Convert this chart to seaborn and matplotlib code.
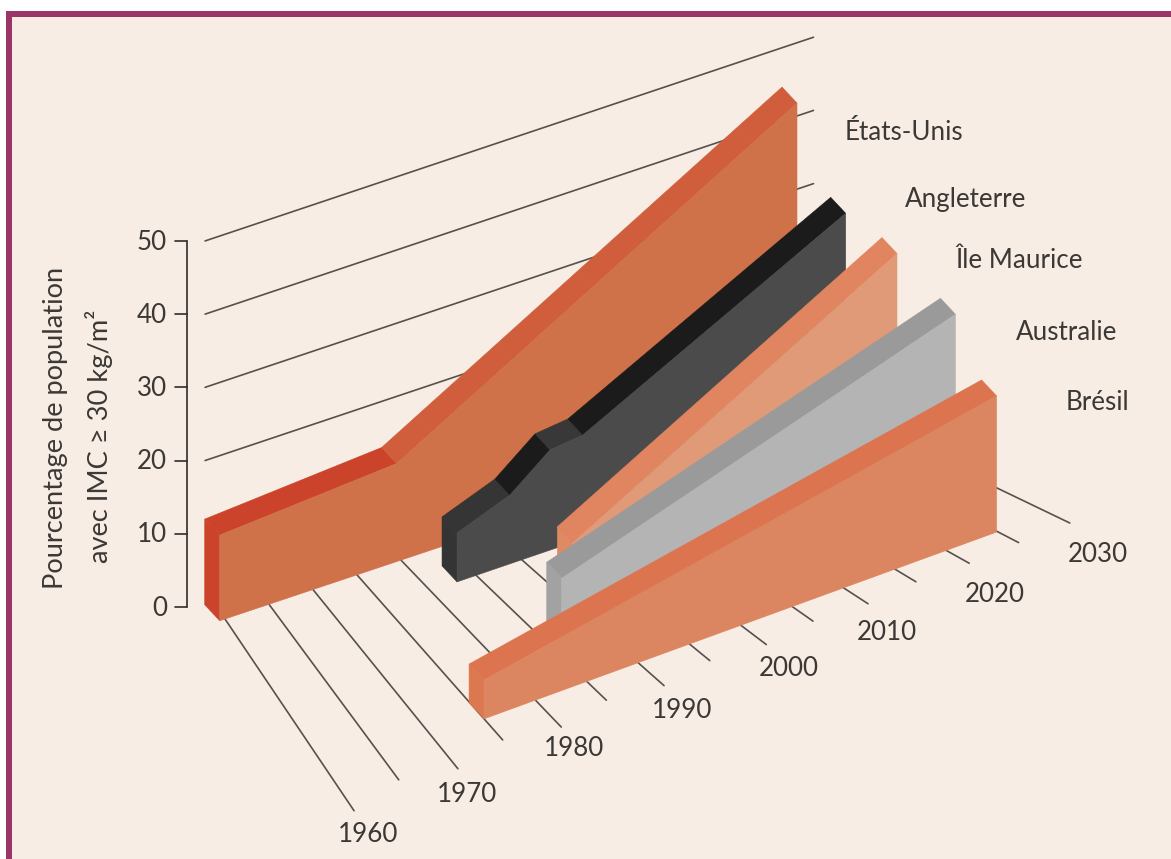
import numpy as np
import pandas as pd
import matplotlib
matplotlib.use("Agg")
import matplotlib.pyplot as plt
from matplotlib.patches import Polygon, Rectangle
import seaborn as sns

# Prevalence of obesity by country: years and percentages at each change of slope
usa_years = [1959.4, 1979.5, 2025.0]
usa_values = [11.7, 13.4, 44.35]
england_years = [1982.9, 1988.7, 1993.1, 1996.7, 2025.5]
england_values = [6.7, 9.4, 13.7, 14.2, 32.2]
mauritius_years = [1991.4, 2025.6]
mauritius_values = [6.2, 30.2]
australia_years = [1985.9, 2025.6]
australia_values = [9.2, 26.0]
brazil_years = [1975.0, 2024.9]
brazil_values = [5.3, 18.6]

country_names = ["États-Unis", "Angleterre", "Île Maurice", "Australie", "Brésil"]
decade_labels = [1960, 1970, 1980, 1990, 2000, 2010, 2020, 2030]
value_ticks = [0, 10, 20, 30, 40, 50]
wall_grid_values = [20, 30, 40, 50]
grid_years = list(range(1960, 2035, 5))

# Oblique view: the floor is a bilinear patch between these four corners (pixels)
FLOOR = {(0, 0): (225, 619), (1, 0): (841, 413), (0, 1): (330, 775), (1, 1): (1049, 513)}
PX_PER_UNIT = 7.32
BACK_SHIFT = np.array([-15.0, -16.0])


def project(year, depth, value=0.0, back=False):
    u = (np.asarray(year, float) - 1960) / 70
    v = depth
    corner = lambda k: ((1 - u) * (1 - v) * FLOOR[(0, 0)][k] + u * (1 - v) * FLOOR[(1, 0)][k]
                        + (1 - u) * v * FLOOR[(0, 1)][k] + u * v * FLOOR[(1, 1)][k])
    x = corner(0)
    y = corner(1) - np.asarray(value, float) * PX_PER_UNIT
    if back:
        x = x + BACK_SHIFT[0]
        y = y + BACK_SHIFT[1]
    return np.column_stack([np.atleast_1d(x), np.atleast_1d(y)])


BG = "#f8ede4"
INK = "#3b3836"
LINE = "#55514e"
TEXT_SIZE = 18.7

sns.set_theme(style="white")
plt.rcParams["font.family"] = ["Lato", "DejaVu Sans"]

fig = plt.figure(figsize=(11.71, 8.59), dpi=100, facecolor="white")
ax = fig.add_axes([0, 0, 1, 1])
ax.set_xlim(0, 1171)
ax.set_ylim(859, 0)
ax.axis("off")

# Panel and its top and left rule
ax.add_patch(Rectangle((12, 17), 1159, 842, fc=BG, ec="none", zorder=0))
ax.add_patch(Rectangle((6, 11), 1165, 6, fc="#9c3567", ec="none", zorder=1))
ax.add_patch(Rectangle((6, 11), 6, 848, fc="#9c3567", ec="none", zorder=1))

# Floor lines and wall lines go through one long table, one unit per line;
# the decade lines run slightly further than the five-year ones
rows = []
for i, yr in enumerate(grid_years):
    u = (yr - 1960) / 70
    reach = 1.229 - 0.129 * u - (0.07 * (1 - u) if i % 2 else 0.0)
    pts = np.vstack([project(yr, 0.0), project(yr, reach)])
    rows += [{"x": p[0], "y": p[1], "line": f"floor{i}"} for p in pts]
for val in wall_grid_values:
    pts = np.vstack([project(1959.3, 0.012, val, back=True), project(2028.3, 0.012, val, back=True)])
    rows += [{"x": p[0], "y": p[1], "line": f"wall{val}"} for p in pts]
grid = pd.DataFrame(rows)
sns.lineplot(data=grid, x="x", y="y", units="line", estimator=None, sort=False,
             color=LINE, lw=1.2, ax=ax, legend=False, zorder=2)
ax.set_xlim(0, 1171)
ax.set_ylim(859, 0)
ax.axis("off")


def ribbon(years, values, depth, face, side, bands, z):
    years = np.asarray(years, float)
    values = np.asarray(values, float)
    top = project(years, depth, values)
    base = project(years, depth)
    top_b = project(years, depth, values, back=True)
    base_b = project(years, depth, back=True)
    # top surface, one quad per segment so each slope keeps its own shade
    for i in range(len(years) - 1):
        quad = [top[i], top[i + 1], top_b[i + 1], top_b[i]]
        ax.add_patch(Polygon(quad, fc=bands[i], ec=bands[i], lw=0.4, zorder=z))
    # left end
    ax.add_patch(Polygon([top[0], top_b[0], base_b[0], base[0]], fc=side, ec=side, lw=0.4, zorder=z))
    # front face
    ax.add_patch(Polygon(np.vstack([top, base[::-1]]), fc=face, ec=face, lw=0.4, zorder=z + 0.1))


ribbon(usa_years, usa_values, 0.0, "#cf7149", "#cb432b", ["#cb432b", "#d05d3b"], 3)
ribbon(england_years, england_values, 0.22, "#4b4b4b", "#343434",
       ["#353535", "#1b1b1b", "#383838", "#1b1b1b"], 4)
ribbon(mauritius_years, mauritius_values, 0.47, "#e19a77", "#e08a64", ["#e0855f"], 5)
ribbon(australia_years, australia_values, 0.76, "#b4b4b4", "#a2a2a2", ["#9a9a9a"], 6)
ribbon(brazil_years, brazil_values, 1.0, "#db8660", "#dc7850", ["#dc7450"], 7)

# Vertical percentage axis
AXIS_X, AXIS_Y0 = 187, 607
ax.plot([AXIS_X, AXIS_X], [AXIS_Y0, AXIS_Y0 - 50 * PX_PER_UNIT], color="#2f2c2a", lw=1.2, zorder=8)
for t in value_ticks:
    yt = AXIS_Y0 - t * PX_PER_UNIT
    ax.plot([175, AXIS_X], [yt, yt], color="#2f2c2a", lw=1.2, zorder=8)
    ax.text(167, yt + 1, str(t), ha="right", va="center", fontsize=TEXT_SIZE, color=INK, zorder=9)

ax.text(56, 428, "Pourcentage de population", rotation=90, ha="center", va="center",
        fontsize=19.6, color=INK)
ax.text(99, 436, "avec IMC ≥ 30 kg/m²", rotation=90, ha="center", va="center",
        fontsize=19.6, color=INK)

# Decade labels below the floor lines
decade_x = [368, 467, 574, 682, 789, 887, 995, 1098]
decade_y = [834, 795, 749, 711, 669, 632, 594, 554]
for lab, xt, yt in zip(decade_labels, decade_x, decade_y):
    ax.text(xt, yt, str(lab), ha="center", va="center", fontsize=TEXT_SIZE, color=INK, zorder=9)

# Country names at the far end of each ribbon
name_x = [845, 905, 955, 1016, 1066]
name_y = [132, 200, 261, 333, 403]
for nm, xt, yt in zip(country_names, name_x, name_y):
    ax.text(xt, yt, nm, ha="left", va="center", fontsize=TEXT_SIZE, color=INK, zorder=9)

fig.savefig("out.png", dpi=100, facecolor="white")
